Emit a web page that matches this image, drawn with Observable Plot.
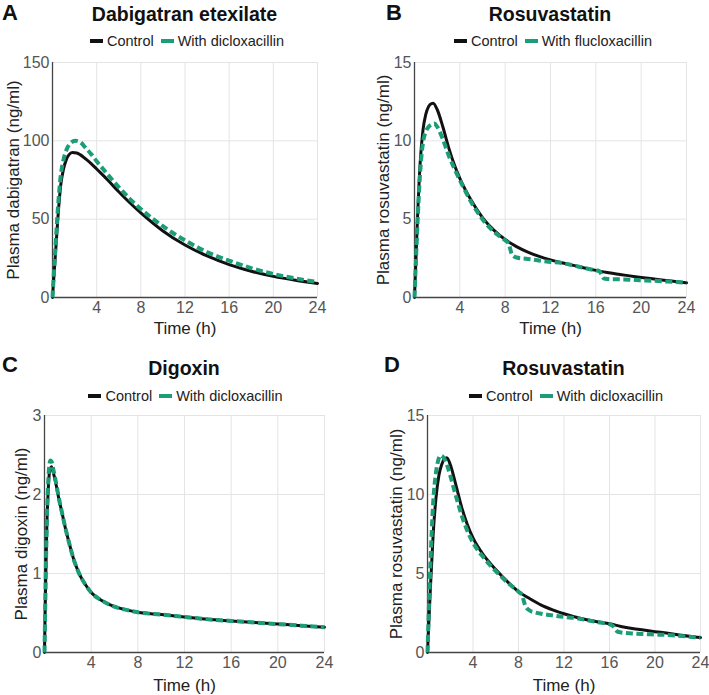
<!DOCTYPE html>
<html>
<head>
<meta charset="utf-8">
<script src="https://cdn.jsdelivr.net/npm/d3@7"></script>
<script src="https://cdn.jsdelivr.net/npm/@observablehq/plot@0.6"></script>
<style>
  html, body { margin: 0; padding: 0; background: #fff; }
  body { font-family: "Liberation Sans", Arial, sans-serif; color: #111; }
  #fig { position: relative; width: 709px; height: 695px; overflow: hidden; }
  .abs { position: absolute; }
  .letter { font-weight: bold; font-size: 22px; line-height: 22px; }
  .title { font-weight: bold; font-size: 19.5px; line-height: 19.5px; width: 320px; text-align: center; white-space: nowrap; }
  .legend { font-size: 14.5px; line-height: 14.5px; width: 320px; text-align: center; white-space: nowrap; color: #222; }
  .sw { display: inline-block; width: 13px; height: 4px; margin-right: 4px; vertical-align: middle; position: relative; top: -1px; }
  .sw.second { margin-left: 7px; }
</style>
</head>
<body>
<div id="fig"></div>
<script>
// Time grid and simulated plasma concentrations (ng/ml) for each panel
const xTicks = [4, 8, 12, 16, 20, 24];

// A: dabigatran etexilate, control vs with dicloxacillin
const timeA_control = [0, 0.25, 0.5, 0.75, 1, 1.25, 1.5, 1.8, 2.2, 2.5, 3, 3.5, 4, 5, 6, 7, 8, 10, 12, 14, 16, 18, 20, 22, 24];
const concA_control = [0, 26, 52, 72, 82, 88, 91.2, 92.5, 92.2, 91.2, 88.5, 85.5, 82, 75, 67.5, 60.5, 54, 42.5, 33.5, 26.5, 21, 16.8, 13.5, 11, 9];
const timeA_dicloxacillin = [0, 0.25, 0.5, 0.75, 1, 1.25, 1.5, 1.75, 2.1, 2.5, 3, 3.5, 4, 5, 6, 7, 8, 10, 12, 14, 16, 18, 20, 22, 24];
const concA_dicloxacillin = [0, 30, 58, 78, 88, 94, 97.5, 99.3, 100, 99.2, 95.5, 91.5, 87, 78.5, 70.5, 63, 56.5, 45.5, 36.5, 29, 23.5, 18.8, 15, 12.2, 9.8];
const yTicksA = [0, 50, 100, 150];

// B: rosuvastatin, control vs with flucloxacillin
const timeB_control = [0, 0.25, 0.5, 0.75, 1, 1.25, 1.5, 1.65, 2, 2.5, 3, 3.5, 4, 5, 6, 7, 8, 9, 10, 11, 12, 13, 14, 15, 16, 17, 18, 19, 20, 21, 22, 23, 24];
const concB_control = [0, 4.8, 8.6, 10.7, 11.7, 12.2, 12.38, 12.4, 12.0, 10.9, 9.6, 8.5, 7.6, 6.2, 5.1, 4.3, 3.7, 3.25, 2.9, 2.62, 2.4, 2.22, 2.05, 1.88, 1.73, 1.6, 1.48, 1.38, 1.28, 1.19, 1.1, 1.02, 0.94];
const timeB_flucloxacillin = [0, 0.25, 0.5, 0.75, 1, 1.25, 1.5, 1.75, 2, 2.5, 3, 3.5, 4, 5, 6, 7, 8, 8.3, 8.6, 9, 10, 11, 12, 13, 14, 15, 16, 16.3, 16.7, 17, 18, 19, 20, 21, 22, 23, 24];
const concB_flucloxacillin = [0, 4.5, 8.0, 9.9, 10.6, 10.9, 11.05, 11.1, 10.9, 10.1, 9.1, 8.25, 7.5, 6.1, 5.0, 4.2, 3.65, 3.45, 2.75, 2.55, 2.46, 2.36, 2.27, 2.2, 2.05, 1.88, 1.73, 1.68, 1.22, 1.18, 1.16, 1.14, 1.1, 1.07, 1.03, 0.99, 0.94];
const yTicksB = [0, 5, 10, 15];

// C: digoxin, control vs with dicloxacillin
const timeC = [0, 0.1, 0.2, 0.3, 0.4, 0.5, 0.6, 0.75, 1, 1.25, 1.5, 1.75, 2, 2.5, 3, 3.5, 4, 5, 6, 7, 8, 10, 12, 14, 16, 18, 20, 22, 24];
const concC_control = [0, 0.9, 1.6, 2.0, 2.25, 2.33, 2.35, 2.28, 2.12, 1.93, 1.77, 1.6, 1.45, 1.18, 0.99, 0.86, 0.76, 0.65, 0.58, 0.54, 0.51, 0.48, 0.45, 0.42, 0.4, 0.38, 0.36, 0.34, 0.32];
const concC_dicloxacillin = [0, 0.9, 1.65, 2.1, 2.35, 2.43, 2.42, 2.32, 2.14, 1.94, 1.77, 1.6, 1.45, 1.18, 0.99, 0.86, 0.76, 0.65, 0.58, 0.54, 0.51, 0.48, 0.45, 0.42, 0.4, 0.38, 0.36, 0.34, 0.32];
const yTicksC = [0, 1, 2, 3];

// D: rosuvastatin, control vs with dicloxacillin
const timeD_control = [0, 0.25, 0.5, 0.75, 1, 1.25, 1.5, 1.7, 2, 2.5, 3, 3.5, 4, 5, 6, 7, 8, 9, 10, 11, 12, 13, 14, 15, 16, 17, 18, 19, 20, 21, 22, 23, 24];
const concD_control = [0, 4.0, 7.5, 9.8, 11.2, 11.9, 12.25, 12.32, 11.9, 10.6, 9.2, 8.1, 7.25, 6.1, 5.25, 4.5, 3.85, 3.4, 3.0, 2.7, 2.45, 2.25, 2.07, 1.93, 1.82, 1.65, 1.52, 1.42, 1.32, 1.23, 1.13, 1.03, 0.95];
const timeD_dicloxacillin = [0, 0.25, 0.5, 0.75, 1, 1.15, 1.4, 1.75, 2, 2.5, 3, 3.5, 4, 5, 6, 7, 8, 8.3, 8.6, 9, 9.4, 10, 11, 12, 13, 14, 15, 16, 16.3, 16.7, 17, 18, 19, 20, 21, 22, 23, 24];
const concD_dicloxacillin = [0, 5.5, 9.5, 11.4, 12.3, 12.47, 12.35, 11.8, 11.2, 9.9, 8.7, 7.7, 6.95, 5.95, 5.15, 4.45, 3.85, 3.65, 2.95, 2.65, 2.55, 2.45, 2.35, 2.25, 2.18, 2.05, 1.92, 1.8, 1.68, 1.32, 1.27, 1.21, 1.17, 1.14, 1.11, 1.06, 1.0, 0.94];
const yTicksD = [0, 5, 10, 15];

const CONTROL = "#111111";
const TREATED = "#1b9e77";

const rows = (t, v) => t.map((x, i) => ({t: x, c: v[i]}));

function panel(cfg) {
  const yMax = cfg.yTicks[cfg.yTicks.length - 1];
  return Plot.plot({
    width: cfg.width,
    height: cfg.height,
    marginLeft: cfg.ml, marginRight: cfg.mr, marginTop: cfg.mt, marginBottom: cfg.mb,
    style: {fontFamily: '"Liberation Sans", Arial, sans-serif', fontSize: "16px", background: "transparent", overflow: "visible"},
    x: {domain: [0, 24]},
    y: {domain: [0, yMax]},
    marks: [
      Plot.gridX(xTicks, {stroke: "#e4e4e4", strokeOpacity: 1}),
      Plot.gridY(cfg.yTicks.filter(v => v > 0), {stroke: "#e4e4e4", strokeOpacity: 1}),
      Plot.ruleX([0], {stroke: "#444", strokeWidth: 1.3}),
      Plot.ruleY([0], {stroke: "#444", strokeWidth: 1.3}),
      Plot.axisX(xTicks, {tickSize: 0, tickPadding: 4, fontSize: 16, color: "#555", label: null, tickFormat: d => String(d)}),
      Plot.axisY(cfg.yTicks, {tickSize: 0, tickPadding: 3, fontSize: 16, color: "#555", label: null, tickFormat: d => String(d)}),
      Plot.text([cfg.yLabel], {frameAnchor: "left", textAnchor: "middle", lineAnchor: "middle", rotate: -90, dx: cfg.yDx, fontSize: 17, fill: "#222"}),
      Plot.text(["Time (h)"], {frameAnchor: "bottom", textAnchor: "middle", lineAnchor: "middle", dy: cfg.xDy, fontSize: 17, fill: "#222"}),
      Plot.line(rows(cfg.tC, cfg.vC), {x: "t", y: "c", stroke: CONTROL, strokeWidth: 3, curve: "monotone-x"}),
      Plot.line(rows(cfg.tT, cfg.vT), {x: "t", y: "c", stroke: TREATED, strokeWidth: 4, strokeDasharray: "7 3.5", strokeLinecap: "butt", strokeLinejoin: "miter", curve: "monotone-x"})
    ]
  });
}

const fig = document.getElementById("fig");

function place(node, left, top) {
  node.classList.add("abs");
  node.style.left = left + "px";
  node.style.top = top + "px";
  fig.appendChild(node);
}

function header(h) {
  const letter = document.createElement("div");
  letter.className = "letter";
  letter.textContent = h.letter;
  place(letter, h.letterX, h.letterY);

  const title = document.createElement("div");
  title.className = "title";
  title.textContent = h.title;
  place(title, h.titleCx - 160, h.titleY);

  const legend = document.createElement("div");
  legend.className = "legend";
  legend.innerHTML =
    `<span class="sw" style="background:${CONTROL}"></span>Control` +
    `<span class="sw second" style="background:${TREATED}"></span>${h.treated}`;
  place(legend, h.legendCx - 160, h.legendY);
}

const panels = [
  {
    letter: "A", title: "Dabigatran etexilate", treated: "With dicloxacillin",
    letterX: 2, letterY: 2, titleCx: 184.5, titleY: 5, legendCx: 187, legendY: 34,
    left: 0, top: 50, width: 345, height: 292, ml: 52, mr: 28, mt: 12, mb: 45,
    yTicks: yTicksA, yLabel: "Plasma dabigatran (ng/ml)", yDx: -38.5, xDy: 31,
    tC: timeA_control, vC: concA_control, tT: timeA_dicloxacillin, vT: concA_dicloxacillin
  },
  {
    letter: "B", title: "Rosuvastatin", treated: "With flucloxacillin",
    letterX: 386, letterY: 2, titleCx: 550, titleY: 5, legendCx: 553, legendY: 34,
    left: 354, top: 50, width: 350, height: 292, ml: 60, mr: 18, mt: 12, mb: 45,
    yTicks: yTicksB, yLabel: "Plasma rosuvastatin (ng/ml)", yDx: -30.5, xDy: 31,
    tC: timeB_control, vC: concB_control, tT: timeB_flucloxacillin, vT: concB_flucloxacillin
  },
  {
    letter: "C", title: "Digoxin", treated: "With dicloxacillin",
    letterX: 2, letterY: 354, titleCx: 184, titleY: 359, legendCx: 185.5, legendY: 389,
    left: 0, top: 400, width: 345, height: 295, ml: 44, mr: 21, mt: 15, mb: 43,
    yTicks: yTicksC, yLabel: "Plasma digoxin (ng/ml)", yDx: -23, xDy: 33,
    tC: timeC, vC: concC_control, tT: timeC, vT: concC_dicloxacillin
  },
  {
    letter: "D", title: "Rosuvastatin", treated: "With dicloxacillin",
    letterX: 384, letterY: 354, titleCx: 563.5, titleY: 359, legendCx: 566, legendY: 389,
    left: 354, top: 400, width: 355, height: 295, ml: 73, mr: 9, mt: 15, mb: 43,
    yTicks: yTicksD, yLabel: "Plasma rosuvastatin (ng/ml)", yDx: -30.5, xDy: 33,
    tC: timeD_control, vC: concD_control, tT: timeD_dicloxacillin, vT: concD_dicloxacillin
  }
];

for (const p of panels) {
  place(panel(p), p.left, p.top);
  header(p);
}
</script>
</body>
</html>
